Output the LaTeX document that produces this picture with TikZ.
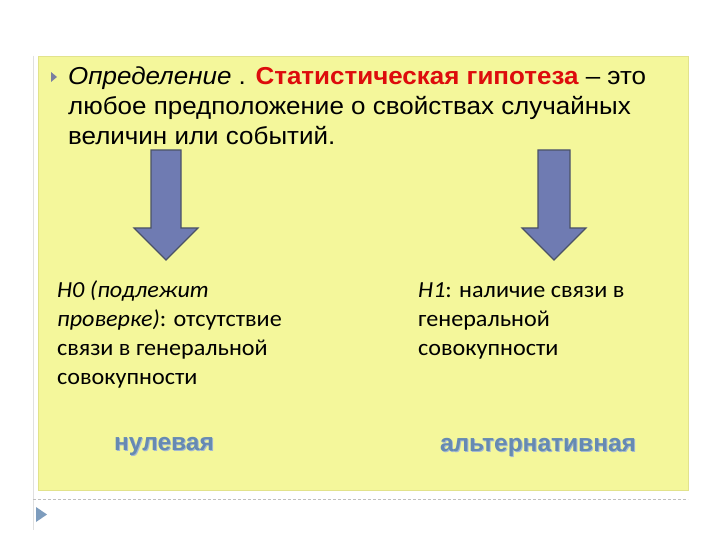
\documentclass[tikz,border=0pt]{standalone}
\usepackage{fontspec}
\setmainfont{Liberation Sans}
\newfontfamily\calib{Carlito}
\definecolor{slidebg}{HTML}{F4F79B}
\definecolor{slideedge}{HTML}{E2E38C}
\definecolor{arrowfill}{HTML}{6F7BB2}
\definecolor{arrowedge}{HTML}{4B5266}
\definecolor{redtxt}{HTML}{DD0C0C}
\definecolor{labelblue}{HTML}{668AB2}
\definecolor{bullet}{HTML}{7A7FA0}
\newcommand{\wideA}[1]{\scalebox{1.06}[1]{#1}}
\newcommand{\wideB}[1]{\scalebox{1.05}[1]{#1}}
\tikzset{
  line/.style={anchor=base west, inner sep=0pt, font=\fontsize{24.5}{28}\selectfont},
  low/.style={anchor=base west, inner sep=0pt, font=\calib\fontsize{23}{26}\selectfont},
  tag/.style={inner sep=0pt, font=\bfseries\fontsize{24.5}{26}\selectfont, text=labelblue},
  bigarrow/.style={fill=arrowfill, draw=arrowedge, line width=1.2pt, line join=miter}
}
\begin{document}
\begin{tikzpicture}[x=1pt,y=-1pt]
\useasboundingbox (0,0) rectangle (720,540);
\fill[white] (0,0) rectangle (720,540);
% faint left guide line
\draw[black!12, line width=0.6pt] (33,56) -- (33,530);
% slide box
\fill[slidebg, draw=slideedge, line width=0.8pt] (38,56) rectangle (688,490);
% dashed separator
\draw[black!25, dashed, dash pattern=on 3pt off 2pt, line width=0.8pt] (33,499) -- (688,499);
% bottom-left nav triangle
\fill[labelblue!85] (36,507) -- (47,514.5) -- (36,522) -- cycle;
% bullet
\fill[bullet] (51,72) -- (57,77) -- (51,82) -- cycle;
% text lines
\node[line] (l1) at (68,85) {\wideA{\itshape Определение\upshape\ . \textcolor{redtxt}{\bfseries Статистическая гипотеза} – это}};
\node[line] (l2) at (68,115) {\wideA{любое предположение о свойствах случайных}};
\node[line] (l3) at (68,145) {\wideA{величин или событий.}};
% arrows
\draw[bigarrow] (151,150) -- (181,150) -- (181,228) -- (198,228) -- (166,260) -- (134,228) -- (151,228) -- cycle;
\draw[bigarrow] (538,150) -- (570,150) -- (570,228) -- (586,228) -- (554,260) -- (522,228) -- (538,228) -- cycle;
% left hypothesis
\node[low] (a1) at (57,297) {\wideB{\itshape H0 (подлежит}};
\node[low] (a2) at (57,326) {\wideB{\itshape проверке)\upshape: отсутствие}};
\node[low] (a3) at (57,355) {\wideB{связи в генеральной}};
\node[low] (a4) at (57,384) {\wideB{совокупности}};
% right hypothesis
\node[low] (b1) at (418,297) {\wideB{\itshape H1\upshape: наличие связи в}};
\node[low] (b2) at (418,326) {\wideB{генеральной}};
\node[low] (b3) at (418,355) {\wideB{совокупности}};
% labels
\node[tag, text=labelblue!60!white] at (165,447) {нулевая};
\node[tag, text=labelblue!60!white] at (539,448) {альтернативная};
\node[tag] (n0) at (164,446) {нулевая};
\node[tag] (n1) at (538,447) {альтернативная};
\end{tikzpicture}
\end{document}
